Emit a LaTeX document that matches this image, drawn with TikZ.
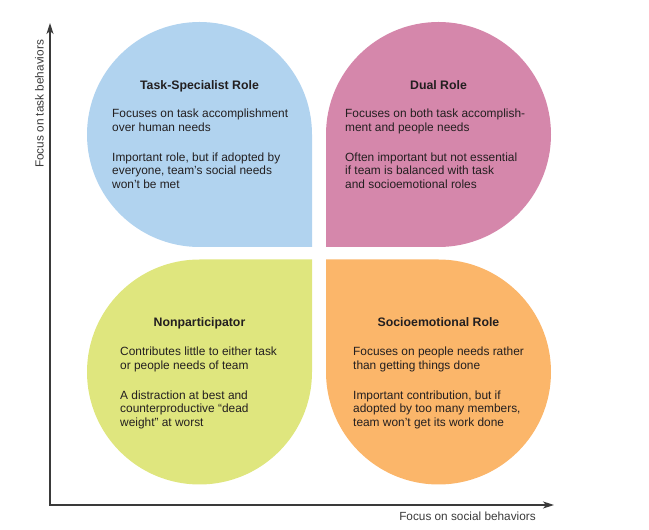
\documentclass[tikz,border=0pt]{standalone}
\usepackage{fontspec}
\setmainfont{Liberation Sans}
\usetikzlibrary{arrows.meta}

\definecolor{taskblue}{HTML}{B1D3EF}
\definecolor{dualpink}{HTML}{D587AB}
\definecolor{nonpgreen}{HTML}{DFE67E}
\definecolor{socioorange}{HTML}{FBB66A}
\definecolor{inkgray}{HTML}{231F20}
\definecolor{axisgray}{HTML}{3A3A3A}

\tikzset{
  petal/.style={fill=#1, draw=none},
  roletitle/.style={anchor=base, inner sep=0pt, text=inkgray,
    font=\fontsize{12.3}{14}\selectfont\bfseries},
  rolebody/.style={anchor=base west, inner sep=0pt, text=inkgray,
    font=\fontsize{11.9}{13.6}\selectfont},
  axisline/.style={draw=axisgray, line width=1.3pt,
    {Stealth[length=11pt,width=7pt,inset=3pt]}-{Stealth[length=11pt,width=7pt,inset=3pt]}},
  axislabel/.style={inner sep=0pt, text=axisgray,
    font=\fontsize{11.8}{14}\selectfont}
}

\begin{document}
\begin{tikzpicture}[x=1pt,y=1pt]
\useasboundingbox (0,0) rectangle (649,530);

% four petals: three rounded quadrants and one square corner toward the centre
\path[petal=taskblue]    (312,395.5) arc[start angle=0,   end angle=270, radius=112.5] -- (312,283) -- cycle;
\path[petal=dualpink]    (438.5,283) arc[start angle=270, end angle=540, radius=112.5] -- (326,283) -- cycle;
\path[petal=nonpgreen]   (199.5,270.5) arc[start angle=90,  end angle=360, radius=112.5] -- (312,270.5) -- cycle;
\path[petal=socioorange] (326,158) arc[start angle=180, end angle=450, radius=112.5] -- (326,270.5) -- cycle;

% role texts
\node[roletitle] (tasktitle) at (199.5,440.5) {Task-Specialist Role};
\node[rolebody] (taskbody) at (112,412.5) {\begin{tabular}[t]{@{}l@{}}
Focuses on task accomplishment\\
over human needs\\[16.4pt]
Important role, but if adopted by\\
everyone, team’s social needs\\
won’t be met\end{tabular}};

\node[roletitle] (dualtitle) at (438.5,440.5) {Dual Role};
\node[rolebody] (dualbody) at (345,412.5) {\begin{tabular}[t]{@{}l@{}}
Focuses on both task accomplish-\\
ment and people needs\\[16.4pt]
Often important but not essential\\
if team is balanced with task\\
and socioemotional roles\end{tabular}};

\node[roletitle] (nonptitle) at (199.5,203) {Nonparticipator};
\node[rolebody] (nonpbody) at (120,174.5) {\begin{tabular}[t]{@{}l@{}}
Contributes little to either task\\
or people needs of team\\[16.4pt]
A distraction at best and\\
counterproductive “dead\\
weight” at worst\end{tabular}};

\node[roletitle] (sociotitle) at (438.5,203) {Socioemotional Role};
\node[rolebody] (sociobody) at (353,174.5) {\begin{tabular}[t]{@{}l@{}}
Focuses on people needs rather\\
than getting things done\\[16.4pt]
Important contribution, but if\\
adopted by too many members,\\
team won’t get its work done\end{tabular}};

% axes
\coordinate (origin) at (50,25);
\coordinate (ytip) at (50,507);
\coordinate (xtip) at (554,25);
\draw[axisline] (ytip) -- (origin) -- (xtip);

\node[axislabel, rotate=90, anchor=base] (ylabel) at (43.5,426) {Focus on task behaviors};
\node[axislabel, anchor=base] (xlabel) at (467.5,9) {Focus on social behaviors};
\end{tikzpicture}
\end{document}
